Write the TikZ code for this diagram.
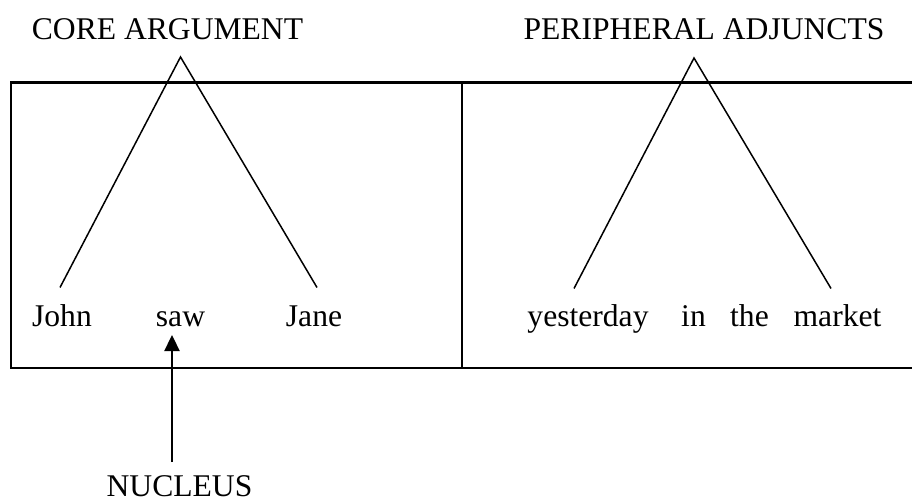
\documentclass[tikz,border=0pt]{standalone}
\usepackage{fontspec}
\setmainfont{Liberation Serif}
\usetikzlibrary{arrows.meta}
\begin{document}
\begin{tikzpicture}[x=1pt,y=-1pt,
  lbl/.style={inner sep=0pt,anchor=base,font=\fontsize{31.6}{38}\selectfont},
  frame/.style={line width=2.3pt},
  leg/.style={line width=1.5pt},
  pointer/.style={line width=2.3pt,-{Triangle[width=15pt,length=16pt]}}]
\useasboundingbox (0,0) rectangle (912,502);
% frame
\coordinate (tl) at (11,82.5);
\coordinate (tr) at (914,82.5);
\coordinate (bl) at (11,367.7);
\coordinate (br) at (914,367.7);
\coordinate (mt) at (462,82.5);
\coordinate (mb) at (462,367.7);
\draw[frame] (tr) -- (tl) -- (bl) -- (br);
\draw[frame] (mt) -- (mb);
% headings
\node[lbl] (core) at (167.5,40) {CORE ARGUMENT};
\node[lbl] (peri) at (704,40) {PERIPHERAL ADJUNCTS};
% words
\node[lbl] (john) at (62,326.5) {John};
\node[lbl] (saw) at (180.5,326.5) {saw};
\node[lbl] (jane) at (314,326.5) {Jane};
\node[lbl] (yest) at (588,326.5) {yesterday};
\node[lbl] (in) at (693.5,326.5) {in};
\node[lbl] (the) at (749.5,326.5) {the};
\node[lbl] (market) at (837.5,326.5) {market};
\node[lbl] (nuc) at (179.5,496) {NUCLEUS};
% triangles
\coordinate (apexA) at (180.5,57);
\coordinate (legA1) at (60,287.5);
\coordinate (legA2) at (317,287.5);
\draw[leg] (legA1) -- (apexA) -- (legA2);
\coordinate (apexB) at (694,58);
\coordinate (legB1) at (574,288.5);
\coordinate (legB2) at (831,288.5);
\draw[leg] (legB1) -- (apexB) -- (legB2);
% arrow
\coordinate (arrS) at (172,462);
\coordinate (arrE) at (172,335);
\draw[pointer] (arrS) -- (arrE);
\end{tikzpicture}
\end{document}
